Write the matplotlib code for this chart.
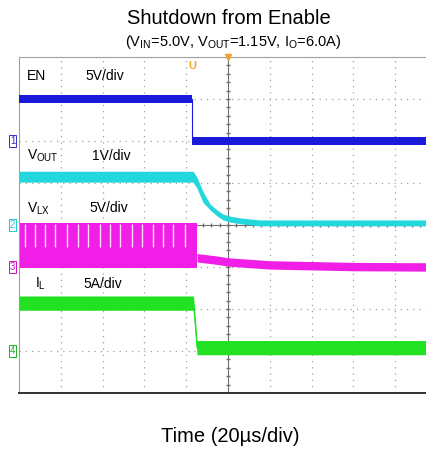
import numpy as np
import matplotlib
matplotlib.use('Agg')
import matplotlib.pyplot as plt

plt.rcParams['font.family'] = ['Liberation Sans', 'DejaVu Sans']

### DATA  (time in us, trigger at 0; values in V or A)

# channel: (ground position in div, units per div)
ch_en = (6.0, 5.0)
ch_vout = (4.0, 1.0)
ch_vlx = (3.0, 5.0)
ch_il = (1.0, 5.0)

t_en = [-100, -17.2, -17.2, 100]
v_en = [5.0, 5.0, 0.0, 0.0]

t_vout = [-100, -16.7, -14.8, -12.0, -8.6, -5.3, -2.4, 1.0, 5.7, 15.3, 100]
v_vout = [1.15, 1.15, 1.0, 0.67, 0.43, 0.29, 0.19, 0.14, 0.10, 0.05, 0.05]

t_vlx = [-100, -14.8, -14.8, -5.0, 0.0, 20.0, 60.0, 100]
v_vlx = [2.55, 2.55, 1.15, 0.85, 0.65, 0.30, 0.10, 0.05]
vlx_hi = 5.25
vlx_lo = -0.1
# light stripes in the switching envelope (aliasing of the scope)
vlx_gaps = [-97.1, -92.3, -87.6, -82.8, -77.0, -71.8, -67.0, -61.2, -56.5,
            -51.7, -46.0, -41.1, -35.9, -31.1, -26.3, -20.6]

t_il = [-100, -16.5, -14.8, 100]
v_il = [5.7, 5.7, 0.4, 0.4]

### PLOT

fig = plt.figure(figsize=(4.26, 4.51), dpi=100)
ax = fig.add_axes([19 / 426, 58 / 451, 418 / 426, 336 / 451])
ax.set_xlim(-100, 100)
ax.set_ylim(0, 8)


def todiv(v, ch):
    return ch[0] + np.asarray(v) / ch[1]


# grid
for gx in np.arange(-80, 100, 20):
    if gx != 0:
        ax.axvline(gx, color='#a0a0a0', lw=0.9, ls=(0, (1, 4)), zorder=0)
for gy in range(1, 8):
    if gy != 4:
        ax.axhline(gy, color='#a0a0a0', lw=0.9, ls=(0, (1, 4)), zorder=0)
ax.axvline(0, color='#707070', lw=0.8, zorder=0)
ax.axhline(4, color='#707070', lw=0.8, zorder=0)
mt = np.arange(-100, 100.1, 4)
ax.plot(mt, np.full_like(mt, 4), ls='none', marker='|', ms=3, color='#707070', zorder=0)
my = np.arange(0, 8.01, 0.2)
ax.plot(np.zeros_like(my), my, ls='none', marker='_', ms=3, color='#707070', zorder=0)

# EN
y = todiv(v_en, ch_en)
ax.fill_between(t_en, y - 0.09, y + 0.09, color='#1a1ad8', lw=0, zorder=3)
ax.plot(t_en, y, color='#1a1ad8', lw=0.8, zorder=3)

# VOUT
y = todiv(v_vout, ch_vout)
th = np.where(np.array(t_vout) < -10, 0.13, 0.07)
ax.fill_between(t_vout, y - th, y + th, color='#22d8dc', lw=0, zorder=3)

# VLX
ax.fill_between([-100, -14.8], todiv(vlx_lo, ch_vlx), todiv(vlx_hi, ch_vlx),
                color='#f01ee6', lw=0, zorder=2)
ax.vlines(vlx_gaps, todiv(2.4, ch_vlx), todiv(vlx_hi, ch_vlx) - 0.02,
          color='#fde0fa', lw=1.0, zorder=2)
tv = np.array(t_vlx[2:])
y = todiv(v_vlx[2:], ch_vlx)
ax.fill_between(tv, y - 0.11, y + 0.09, color='#f01ee6', lw=0, zorder=2)

# IL
y = todiv(v_il, ch_il)
ax.fill_between(t_il, y - 0.17, y + 0.17, color='#22e022', lw=0, zorder=3)
ax.plot(t_il, y, color='#22e022', lw=0.8, zorder=3)

# labels
lab = dict(fontsize=10, color='black', zorder=5)
ax.text(-96, 7.45, 'EN', **lab)
ax.text(-68.4, 7.45, '5V/div', **lab)
ax.text(-96, 5.55, 'V$_{\\mathregular{OUT}}$', **lab)
ax.text(-65, 5.55, '1V/div', **lab)
ax.text(-96, 4.3, 'V$_{\\mathregular{LX}}$', **lab)
ax.text(-66.5, 4.3, '5V/div', **lab)
ax.text(-92.3, 2.5, 'I$_{\\mathregular{L}}$', **lab)
ax.text(-69.4, 2.5, '5A/div', **lab)

# channel markers
for ch, c, n in [(ch_en, '#3030c0', '1'), (ch_vout, '#20c8d0', '2'),
                 (ch_vlx, '#d010c0', '3'), (ch_il, '#20b020', '4')]:
    ax.text(-101.8, ch[0], n, color=c, fontsize=7, ha='right', va='center',
            clip_on=False, bbox=dict(boxstyle='square,pad=0.1', fc='white', ec=c, lw=0.7))

# trigger markers
ax.text(-17.2, 7.78, 'U', color='#f0a830', fontsize=8, fontweight='bold',
        ha='center', va='center')
ax.plot([0], [8], marker='v', ms=4, color='#f0a030', clip_on=False, zorder=6)

for s in ['top', 'left', 'right']:
    ax.spines[s].set_color('#a0a0a0')
    ax.spines[s].set_linewidth(0.8)
ax.spines['bottom'].set_color('#303030')
ax.spines['bottom'].set_linewidth(1.4)
ax.set_xticks([])
ax.set_yticks([])

fig.text(229 / 426, 1 - 19 / 451, 'Shutdown from Enable', ha='center', va='center', fontsize=14.5)
fig.text(233 / 426, 1 - 42 / 451,
         '(V$_{\\mathregular{IN}}$=5.0V, V$_{\\mathregular{OUT}}$=1.15V, I$_{\\mathregular{O}}$=6.0A)',
         ha='center', va='center', fontsize=10.5)
fig.text(230 / 426, 1 - 437 / 451, 'Time (20\u00b5s/div)', ha='center', va='center', fontsize=14.5)

fig.savefig('out.png', dpi=100)
